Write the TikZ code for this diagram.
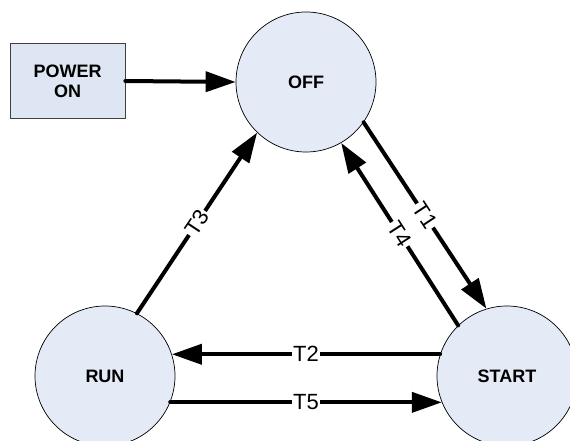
\documentclass[tikz,border=0pt]{standalone}
\usepackage{fontspec}
\setmainfont{Liberation Sans}
\usetikzlibrary{arrows.meta}
\definecolor{statefill}{HTML}{E4EBF6}
\definecolor{boxfill}{HTML}{DDE6F2}
\begin{document}
\begin{tikzpicture}[x=1pt,y=-1pt,
  state/.style={circle,draw=black,line width=0.7pt,fill=statefill,minimum size=140pt,inner sep=0pt,font=\fontsize{18}{20}\selectfont\bfseries},
  source/.style={rectangle,draw=black!75,line width=0.8pt,fill=boxfill,minimum width=115pt,minimum height=75pt,inner sep=0pt,align=center,font=\fontsize{18}{20}\selectfont\bfseries},
  arr/.style={line width=4pt,line cap=round,-{Triangle[length=30pt,width=20pt]}},
  lbl/.style={fill=white,inner sep=1.5pt,sloped,font=\fontsize{22}{24}\selectfont}
]
\useasboundingbox (0,0) rectangle (570,441);
\clip (0,0) rectangle (570,441);
\node[state] (off) at (306,82) {OFF};
\node[state] (start) at (507,376) {START};
\node[state] (run) at (105,376) {RUN};
\node[source] (pw) at (67.5,81) {POWER\\ON};

\draw[arr] (pw.east) -- (off.west);
\draw[arr] (off.-35) -- node[lbl] {T1} (start.107);
\draw[arr] (start.134) -- node[lbl] {T4} (off.-60);
\draw[arr] (run.63) -- node[lbl] {T3} (off.226);
\draw[arr] (start.162) -- node[lbl] {T2} (run.18);
\draw[arr] (run.-22) -- node[lbl] {T5} (start.202);
\end{tikzpicture}
\end{document}
